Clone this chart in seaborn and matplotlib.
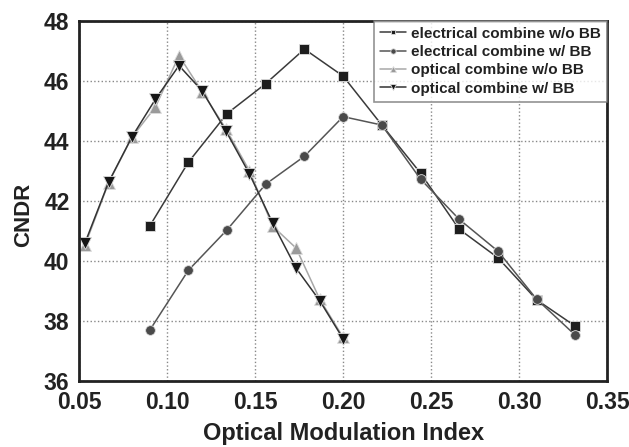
import matplotlib
matplotlib.use('Agg')
import matplotlib.pyplot as plt
import seaborn as sns
import pandas as pd
from matplotlib.ticker import MultipleLocator

# electrical combine (12 points each)
omi_elec = [0.090, 0.112, 0.134, 0.156, 0.178, 0.200, 0.222, 0.244, 0.266, 0.288, 0.310, 0.332]
cndr_elec_wo_bb = [41.15, 43.28, 44.9, 45.9, 47.05, 46.15, 44.52, 42.92, 41.05, 40.1, 38.7, 37.82]
cndr_elec_w_bb = [37.68, 39.68, 41.03, 42.55, 43.48, 44.8, 44.52, 42.72, 41.38, 40.32, 38.72, 37.52]

# optical combine (12 points each)
omi_opt = [0.0533, 0.0667, 0.0800, 0.0933, 0.1067, 0.1200, 0.1333, 0.1467, 0.1600, 0.1733, 0.1867, 0.2000]
cndr_opt_wo_bb = [40.52, 42.6, 44.12, 45.12, 46.83, 45.62, 44.4, 43.0, 41.15, 40.42, 38.72, 37.45]
cndr_opt_w_bb = [40.6, 42.62, 44.13, 45.38, 46.5, 45.65, 44.33, 42.9, 41.25, 39.75, 38.67, 37.4]

series_labels = ['electrical combine w/o BB', 'electrical combine w/ BB',
                 'optical combine w/o BB', 'optical combine w/ BB']

sns.set_style('white')
plt.rcParams['font.family'] = ['Liberation Sans', 'DejaVu Sans']
plt.rcParams['font.weight'] = 'bold'

fig = plt.figure(figsize=(6.29, 4.47), dpi=100)
ax = fig.add_axes([0.126, 0.148, 0.839, 0.806])

styles = [
    (omi_elec, cndr_elec_wo_bb, 's', '#1e1e1e', '#3a3a3a', 6.5),
    (omi_elec, cndr_elec_w_bb, 'o', '#4a4a4a', '#555555', 7),
    (omi_opt, cndr_opt_wo_bb, '^', '#9a9a9a', '#a8a8a8', 8),
    (omi_opt, cndr_opt_w_bb, 'v', '#161616', '#333333', 8),
]
for (xs, ys, mk, mcol, lcol, ms), lab in zip(styles, series_labels):
    df = pd.DataFrame({'x': xs, 'y': ys})
    sns.lineplot(data=df, x='x', y='y', ax=ax, marker=mk, color=lcol,
                 markerfacecolor=mcol, markeredgecolor='#dddddd', markeredgewidth=0.6,
                 markersize=ms, linewidth=1.1, label=lab, sort=False)

ax.set_xlim(0.05, 0.35)
ax.set_ylim(36, 48)
ax.xaxis.set_major_locator(MultipleLocator(0.05))
ax.xaxis.set_minor_locator(MultipleLocator(0.025))
ax.yaxis.set_major_locator(MultipleLocator(2))
ax.set_xticklabels([f'{v:.2f}' for v in ax.get_xticks()])
ax.grid(True, which='major', linestyle=':', color='#888888', linewidth=1.0)
ax.tick_params(axis='both', which='major', direction='in', length=6, width=1.5,
               labelsize=16.5, colors='#222222', pad=7)
ax.tick_params(axis='x', which='minor', direction='in', length=3, width=1.5, colors='#222222')
for sp in ax.spines.values():
    sp.set_linewidth(2)
    sp.set_color('#222222')

ax.set_xlabel('Optical Modulation Index', fontsize=17, fontweight='bold', color='#222222', labelpad=6)
ax.set_ylabel('CNDR', fontsize=16, fontweight='bold', color='#222222')
ax.yaxis.set_label_coords(-0.085, 0.46)

leg = ax.legend(loc='upper right', bbox_to_anchor=(1.0, 1.0), fontsize=11, frameon=True,
                fancybox=False, edgecolor='#777777', handlelength=1.7, handletextpad=0.3,
                borderpad=0.4, labelspacing=0.28, markerscale=0.55, borderaxespad=0)
leg.get_frame().set_linewidth(1.2)
for t in leg.get_texts():
    t.set_color('#222222')

fig.savefig('out.png', dpi=100)
